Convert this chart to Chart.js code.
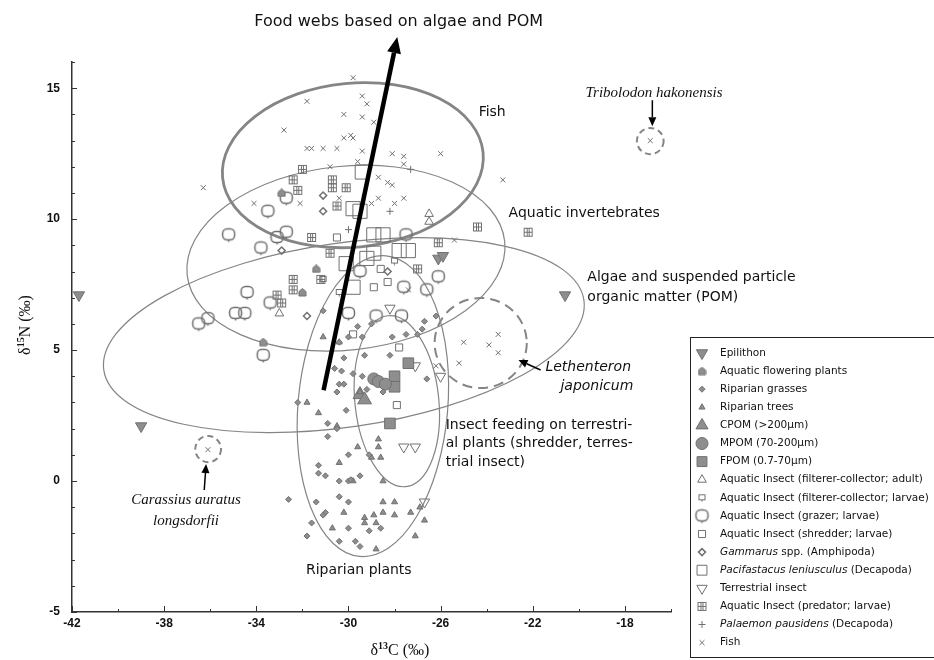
<!DOCTYPE html>
<html>
<head>
<meta charset="utf-8">
<script src="https://cdn.jsdelivr.net/npm/chart.js@4.4.0/dist/chart.umd.min.js"></script>
<style>
  body { margin: 0; background: #fff; }
  #wrap { width: 934px; height: 660px; }
</style>
</head>
<body>
<div id="wrap"><canvas id="c" width="934" height="660"></canvas></div>
<script>
// axis ticks
const xTicks = [-42, -38, -34, -30, -26, -22, -18];
const yTicks = [-5, 0, 5, 10, 15];

// δ13C, δ15N pairs, one list per group
const epilithon = [[-41.7, 7.1], [-39.0, 2.1], [-26.1, 8.5], [-25.9, 8.6], [-20.6, 7.1]];
const aquaticFlowering = [[-31.4, 8.1], [-32.0, 7.2], [-33.7, 5.3], [-32.9, 11.0]];
const riparianGrasses = [
  [-31.1, 6.5], [-29.3, 4.8], [-28.2, 4.8], [-29.8, 4.1], [-29.4, 4.0], [-30.6, 4.3], [-30.3, 4.2],
  [-30.4, 3.7], [-30.5, 3.4], [-30.2, 3.7], [-30.2, 4.7], [-30.0, 5.5], [-29.4, 5.5], [-30.4, 5.3],
  [-29.6, 5.9], [-29.0, 6.0], [-28.1, 5.5], [-27.5, 5.6], [-27.0, 5.6], [-26.7, 6.1], [-26.2, 6.3],
  [-26.8, 5.8], [-29.2, 3.5], [-28.5, 3.4], [-26.6, 3.9], [-32.2, 3.0], [-30.9, 2.2], [-30.5, 2.0],
  [-30.9, 1.7], [-30.1, 2.7], [-30.0, 1.0], [-31.3, 0.6], [-31.0, 0.2], [-30.4, 0.0], [-30.0, 0.0],
  [-29.9, 0.05], [-29.5, 0.2], [-29.1, 1.0], [-30.4, -0.6], [-30.0, -0.8], [-32.6, -0.7], [-31.4, -0.8],
  [-31.0, -1.2], [-31.1, -1.3], [-31.6, -1.6], [-30.0, -1.8], [-29.1, -1.9], [-28.6, -1.8], [-30.4, -2.3],
  [-29.7, -2.3], [-29.5, -2.5], [-31.8, -2.1], [-31.3, 0.3]
];
const riparianTrees = [
  [-31.8, 3.0], [-31.3, 2.6], [-30.5, 2.1], [-29.6, 1.3], [-28.7, 1.6], [-28.7, 1.3], [-28.6, 0.9],
  [-29.0, 0.9], [-30.4, 0.7], [-28.5, 0.0], [-29.8, 0.0], [-28.5, -0.8], [-28.0, -0.8], [-30.2, -1.2],
  [-29.3, -1.4], [-28.9, -1.3], [-28.5, -1.2], [-28.0, -1.3], [-27.3, -1.2], [-26.9, -1.0], [-26.7, -1.5],
  [-27.1, -2.1], [-30.7, -1.8], [-28.8, -1.6], [-28.8, -2.6], [-29.3, -1.6], [-30.4, 5.3], [-31.1, 5.5],
  [-29.5, 3.4]
];
const cpom = [[-29.5, 3.3], [-29.3, 3.1]];
const mpom = [[-28.9, 3.9], [-28.7, 3.8], [-28.4, 3.7]];
const fpom = [[-28.0, 4.0], [-28.0, 3.6], [-27.4, 4.5], [-28.2, 2.2]];
const filtererAdult = [[-26.5, 10.2], [-26.5, 9.9], [-33.0, 6.4]];
const filtererLarvae = [[-31.1, 7.7], [-30.4, 7.2], [-28.0, 8.4]];
const grazerLarvae = [
  [-32.7, 10.8], [-33.5, 10.3], [-35.2, 9.4], [-33.1, 9.3], [-32.7, 9.5], [-33.8, 8.9], [-34.4, 7.2],
  [-33.4, 6.8], [-34.9, 6.4], [-34.5, 6.4], [-36.5, 6.0], [-36.1, 6.2], [-33.7, 4.8], [-29.5, 8.0],
  [-26.1, 7.8], [-26.6, 7.3], [-27.6, 7.4], [-30.0, 6.4], [-28.8, 6.3], [-27.7, 6.3], [-27.5, 9.4]
];
const shredderLarvae = [[-30.5, 9.3], [-28.3, 7.6], [-28.9, 7.4], [-27.9, 2.9], [-27.8, 5.1], [-29.8, 5.6], [-28.6, 8.1]];
const gammarus = [[-31.1, 10.9], [-31.1, 10.3], [-32.9, 8.8], [-31.8, 6.3], [-28.3, 8.0]];
const pacifastacus = [
  [-29.4, 11.8], [-29.8, 10.4], [-29.5, 10.3], [-28.9, 9.4], [-28.5, 9.4], [-27.8, 8.8], [-27.4, 8.8],
  [-28.9, 8.7], [-29.2, 8.5], [-30.1, 8.3], [-29.8, 7.4]
];
const terrestrialInsect = [[-27.6, 1.3], [-27.1, 1.3], [-26.7, -0.8], [-27.1, 4.4], [-26.0, 4.0], [-28.2, 6.6]];
const predatorLarvae = [
  [-32.0, 11.9], [-32.4, 11.5], [-32.2, 11.1], [-30.7, 11.5], [-30.7, 11.2], [-30.1, 11.2], [-30.5, 10.5],
  [-31.6, 9.3], [-30.8, 8.7], [-24.4, 9.7], [-22.2, 9.5], [-26.1, 9.1], [-27.0, 8.1], [-32.4, 7.7],
  [-32.4, 7.3], [-33.1, 7.1], [-32.9, 6.8], [-31.2, 7.7]
];
const palaemon = [[-27.3, 11.9], [-28.2, 10.3], [-30.0, 9.6]];
const fish = [
  [-29.8, 15.4], [-31.8, 14.5], [-30.2, 14.0], [-32.8, 13.4], [-29.4, 14.7], [-29.2, 14.4], [-29.4, 13.9],
  [-28.9, 13.7], [-30.2, 13.1], [-29.9, 13.2], [-29.8, 13.1], [-31.8, 12.7], [-31.6, 12.7], [-31.1, 12.7],
  [-30.5, 12.7], [-29.4, 12.6], [-28.1, 12.5], [-27.6, 12.4], [-27.6, 12.1], [-26.0, 12.5], [-29.6, 12.2],
  [-30.8, 12.0], [-23.3, 11.5], [-36.3, 11.2], [-28.7, 11.6], [-28.3, 11.4], [-28.1, 11.3], [-34.1, 10.6],
  [-32.1, 10.6], [-29.0, 10.6], [-28.7, 10.8], [-30.4, 10.8], [-28.0, 10.6], [-27.6, 10.8], [-25.4, 9.2],
  [-27.4, 7.3], [-26.2, 4.4], [-25.2, 4.5], [-25.0, 5.3], [-23.5, 4.9], [-23.5, 5.6], [-23.9, 5.2],
  [-36.1, 1.2], [-16.9, 13.0]
];

const GRAY = '#8e8e8e';
const LINE = '#707070';
const NONE = 'rgba(255,255,255,0)';

function icon(size, draw) {
  const c = document.createElement('canvas');
  c.width = c.height = size;
  const g = c.getContext('2d');
  g.strokeStyle = LINE;
  g.fillStyle = GRAY;
  g.lineWidth = 1;
  draw(g, size);
  return c;
}
const gridIcon = icon(11, (g, s) => {
  g.strokeRect(1.5, 1.5, s - 3, s - 3);
  g.beginPath();
  g.moveTo(4.5, 1.5); g.lineTo(4.5, s - 1.5);
  g.moveTo(6.5, 1.5); g.lineTo(6.5, s - 1.5);
  g.moveTo(1.5, 5.5); g.lineTo(s - 1.5, 5.5);
  g.stroke();
});
const houseIcon = icon(9, (g) => {
  g.beginPath();
  g.moveTo(4.5, 0.5); g.lineTo(8, 3.5); g.lineTo(8, 8); g.lineTo(1, 8); g.lineTo(1, 3.5);
  g.closePath(); g.fill(); g.stroke();
});
const blobIcon = icon(17, (g) => {
  g.lineWidth = 1.5;
  g.beginPath();
  g.roundRect(2.5, 2.5, 12, 11, 4.5);
  g.stroke();
  g.beginPath(); g.moveTo(8.5, 13.5); g.lineTo(8.5, 15.5); g.stroke();
});
const notchIcon = icon(9, (g) => {
  g.strokeRect(1.5, 1.5, 6, 5);
  g.beginPath(); g.moveTo(4.5, 6.5); g.lineTo(4.5, 8.5); g.stroke();
});

function series(label, pts, style, legendText) {
  return Object.assign({
    label: label,
    data: pts.map(p => ({x: p[0], y: p[1]})),
    backgroundColor: GRAY,
    borderColor: LINE,
    borderWidth: 1,
    pointRadius: 4,
    rotation: 0,
    legendText: legendText || [[label, false]]
  }, style);
}

const datasets = [
  series('Epilithon', epilithon, {pointStyle: 'triangle', rotation: 180, pointRadius: 6.5}),
  series('Aquatic flowering plants', aquaticFlowering, {pointStyle: houseIcon}),
  series('Riparian grasses', riparianGrasses, {pointStyle: 'rectRot', pointRadius: 3}),
  series('Riparian trees', riparianTrees, {pointStyle: 'triangle', pointRadius: 3.5}),
  series('CPOM (>200μm)', cpom, {pointStyle: 'triangle', pointRadius: 8}),
  series('MPOM (70-200μm)', mpom, {pointStyle: 'circle', pointRadius: 6}),
  series('FPOM (0.7-70μm)', fpom, {pointStyle: 'rect', pointRadius: 7.5}),
  series('Aquatic Insect (filterer-collector; adult)', filtererAdult, {pointStyle: 'triangle', pointRadius: 5, backgroundColor: NONE}),
  series('Aquatic Insect (filterer-collector; larvae)', filtererLarvae, {pointStyle: notchIcon}),
  series('Aquatic Insect (grazer; larvae)', grazerLarvae, {pointStyle: blobIcon}),
  series('Aquatic Insect (shredder; larvae)', shredderLarvae, {pointStyle: 'rect', pointRadius: 5, backgroundColor: NONE}),
  series('Gammarus spp. (Amphipoda)', gammarus, {pointStyle: 'rectRot', pointRadius: 3.5, backgroundColor: NONE, borderWidth: 1.5},
    [['Gammarus', true], [' spp. (Amphipoda)', false]]),
  series('Pacifastacus leniusculus (Decapoda)', pacifastacus, {pointStyle: 'rect', pointRadius: 10, backgroundColor: NONE},
    [['Pacifastacus leniusculus', true], [' (Decapoda)', false]]),
  series('Terrestrial insect', terrestrialInsect, {pointStyle: 'triangle', rotation: 180, pointRadius: 6, backgroundColor: NONE}),
  series('Aquatic Insect (predator; larvae)', predatorLarvae, {pointStyle: gridIcon}),
  series('Palaemon pausidens (Decapoda)', palaemon, {pointStyle: 'cross', pointRadius: 3.5},
    [['Palaemon pausidens', true], [' (Decapoda)', false]]),
  series('Fish', fish, {pointStyle: 'crossRot', pointRadius: 3.5})
];

// outlines drawn behind the points (centre, radii in axis units, tilt in degrees)
const regions = [
  {cx: -29.81, cy: 12.06, rx: 5.68, ry: 3.13, rot: -5.5, width: 2.8},
  {cx: -30.11, cy: 8.51, rx: 6.93, ry: 3.51, rot: -6, width: 1.2},
  {cx: -30.2, cy: 5.57, rx: 10.53, ry: 3.51, rot: -8.3, width: 1.2},
  {cx: -28.94, cy: 2.86, rx: 3.25, ry: 5.76, rot: 5, width: 1.2},
  {cx: -27.9, cy: 3.05, rx: 1.82, ry: 3.28, rot: -6, width: 1.2},
  {cx: -24.26, cy: 5.27, rx: 2.0, ry: 1.72, rot: 0, width: 2, dash: [10, 6]},
  {cx: -36.09, cy: 1.22, rx: 0.56, ry: 0.5, rot: 0, width: 2, dash: [6, 4]},
  {cx: -16.9, cy: 12.98, rx: 0.58, ry: 0.5, rot: 0, width: 2, dash: [6, 4]}
];

const SANS = '"DejaVu Sans"';
const notes = [
  {text: 'Food webs based on algae and POM', x: -27.82, y: 17.52, align: 'center', font: '16px ' + SANS},
  {text: 'Fish', x: -24.35, y: 14.08, font: '14px ' + SANS},
  {text: 'Aquatic invertebrates', x: -23.05, y: 10.23, font: '14px ' + SANS},
  {text: 'Algae and suspended particle', x: -19.63, y: 7.79, font: '14px ' + SANS},
  {text: 'organic matter (POM)', x: -19.63, y: 7.02, font: '14px ' + SANS},
  {text: 'Insect feeding on terrestri-', x: -25.78, y: 2.14, font: '14px ' + SANS},
  {text: 'al plants (shredder, terres-', x: -25.78, y: 1.42, font: '14px ' + SANS},
  {text: 'trial insect)', x: -25.78, y: 0.7, font: '14px ' + SANS},
  {text: 'Riparian plants', x: -29.55, y: -3.4, align: 'center', font: '14px ' + SANS},
  {text: 'Tribolodon hakonensis', x: -19.71, y: 14.81, font: 'italic 15px "Liberation Serif"'},
  {text: 'Lethenteron', x: -21.45, y: 4.35, font: 'italic 14px ' + SANS},
  {text: 'japonicum', x: -20.8, y: 3.63, font: 'italic 14px ' + SANS},
  {text: 'Carassius auratus', x: -37.05, y: -0.73, align: 'center', font: 'italic 15px "Liberation Serif"'},
  {text: 'longsdorfii', x: -37.05, y: -1.53, align: 'center', font: 'italic 15px "Liberation Serif"'}
];

// arrows: from -> to, in axis units
const arrows = [
  {from: [-31.08, 3.47], to: [-27.88, 16.95], width: 4.5, head: 16, headW: 7},
  {from: [-16.81, 14.54], to: [-16.81, 13.55], width: 1.5, head: 9, headW: 4},
  {from: [-21.66, 4.24], to: [-22.62, 4.62], width: 1.5, head: 9, headW: 4},
  {from: [-36.26, -0.34], to: [-36.18, 0.65], width: 1.5, head: 9, headW: 4}
];

function toPx(chart, x, y) {
  return [chart.scales.x.getPixelForValue(x), chart.scales.y.getPixelForValue(y)];
}

const drawings = {
  id: 'drawings',
  beforeDatasetsDraw(chart) {
    const ctx = chart.ctx;
    ctx.save();
    regions.forEach(e => {
      const [cx, cy] = toPx(chart, e.cx, e.cy);
      const rx = Math.abs(chart.scales.x.getPixelForValue(e.cx + e.rx) - cx);
      const ry = Math.abs(chart.scales.y.getPixelForValue(e.cy + e.ry) - cy);
      ctx.beginPath();
      ctx.ellipse(cx, cy, rx, ry, e.rot * Math.PI / 180, 0, Math.PI * 2);
      ctx.lineWidth = e.width;
      ctx.setLineDash(e.dash || []);
      ctx.strokeStyle = '#858585';
      ctx.stroke();
    });
    ctx.restore();
  },
  afterDatasetsDraw(chart) {
    const ctx = chart.ctx;
    ctx.save();
    // arrows
    arrows.forEach(a => {
      const [x1, y1] = toPx(chart, a.from[0], a.from[1]);
      const [x2, y2] = toPx(chart, a.to[0], a.to[1]);
      const ang = Math.atan2(y2 - y1, x2 - x1);
      const bx = x2 - Math.cos(ang) * a.head, by = y2 - Math.sin(ang) * a.head;
      ctx.strokeStyle = '#000';
      ctx.fillStyle = '#000';
      ctx.lineWidth = a.width;
      ctx.beginPath(); ctx.moveTo(x1, y1); ctx.lineTo(bx, by); ctx.stroke();
      ctx.beginPath();
      ctx.moveTo(x2, y2);
      ctx.lineTo(bx + Math.sin(ang) * a.headW, by - Math.cos(ang) * a.headW);
      ctx.lineTo(bx - Math.sin(ang) * a.headW, by + Math.cos(ang) * a.headW);
      ctx.closePath(); ctx.fill();
    });
    // labels
    ctx.fillStyle = '#111';
    ctx.textBaseline = 'middle';
    notes.forEach(n => {
      const [x, y] = toPx(chart, n.x, n.y);
      ctx.font = n.font;
      ctx.textAlign = n.align || 'left';
      ctx.fillText(n.text, x, y);
    });
    ctx.restore();
  },
  afterDraw(chart) {
    const ctx = chart.ctx;
    const xs = chart.scales.x, ys = chart.scales.y;
    ctx.save();
    // inward tick marks
    ctx.strokeStyle = '#333';
    ctx.lineWidth = 1;
    ctx.beginPath();
    for (let v = -42; v <= -16; v += 2) {
      const x = Math.round(xs.getPixelForValue(v)) + 0.5;
      const len = (v + 42) % 4 === 0 ? 6 : 3;
      ctx.moveTo(x, ys.bottom); ctx.lineTo(x, ys.bottom - len);
    }
    for (let v = -5; v <= 16; v += 1) {
      const y = Math.round(ys.getPixelForValue(v)) + 0.5;
      const len = v % 5 === 0 ? 5 : 3;
      ctx.moveTo(xs.left, y); ctx.lineTo(xs.left + len, y);
    }
    ctx.stroke();

    // axis titles with superscripts
    ctx.fillStyle = '#111';
    ctx.textBaseline = 'alphabetic';
    function sup(parts, x, y) {
      let w = 0;
      parts.forEach(p => { ctx.font = p[1] ? 'bold 10px "Liberation Serif"' : '16px "Liberation Serif"'; w += ctx.measureText(p[0]).width; });
      let cx = x - w / 2;
      parts.forEach(p => {
        ctx.font = p[1] ? 'bold 10px "Liberation Serif"' : '16px "Liberation Serif"';
        ctx.textAlign = 'left';
        ctx.fillText(p[0], cx, p[1] ? y - 6 : y);
        cx += ctx.measureText(p[0]).width;
      });
    }
    sup([['δ', false], ['13', true], ['C (‰)', false]], 400, 655);
    ctx.save();
    ctx.translate(30, 325);
    ctx.rotate(-Math.PI / 2);
    sup([['δ', false], ['15', true], ['N (‰)', false]], 0, 0);
    ctx.restore();

    // legend box
    const lx = 690, ly = 337;
    ctx.fillStyle = '#fff';
    ctx.fillRect(lx, ly, 250, 321);
    ctx.strokeStyle = '#222';
    ctx.lineWidth = 1;
    ctx.strokeRect(lx + 0.5, ly + 0.5, 250, 320);
    chart.data.datasets.forEach((ds, i) => {
      const y = 353 + i * 18.1;
      ctx.fillStyle = ds.backgroundColor;
      ctx.strokeStyle = ds.borderColor;
      ctx.lineWidth = ds.borderWidth;
      Chart.helpers.drawPoint(ctx, {pointStyle: ds.pointStyle, rotation: ds.rotation, radius: Math.min(ds.pointRadius, 7), borderWidth: ds.borderWidth}, 702, y);
      let tx = 720;
      ctx.fillStyle = '#111';
      ctx.textBaseline = 'middle';
      ctx.textAlign = 'left';
      ds.legendText.forEach(part => {
        ctx.font = (part[1] ? 'italic ' : '') + '10.5px ' + SANS;
        ctx.fillText(part[0], tx, y);
        tx += ctx.measureText(part[0]).width;
      });
    });
    ctx.restore();
  }
};

const tickFont = {family: '"Liberation Sans"', weight: 'bold', size: 12};

new Chart(document.getElementById('c'), {
  type: 'scatter',
  data: {datasets: datasets},
  options: {
    responsive: false,
    animation: false,
    devicePixelRatio: 1,
    layout: {padding: {top: 62, right: 263, left: 0, bottom: 0}},
    plugins: {legend: {display: false}, tooltip: {enabled: false}},
    scales: {
      x: {
        type: 'linear', min: -42, max: -16,
        grid: {display: true, drawOnChartArea: false, drawTicks: false},
        border: {display: true, color: '#333', width: 1.5},
        afterBuildTicks: s => { s.ticks = xTicks.map(v => ({value: v})); },
        afterFit: s => { s.height = 48; },
        ticks: {font: tickFont, color: '#111', padding: 4, maxRotation: 0, autoSkip: false}
      },
      y: {
        type: 'linear', min: -5, max: 16,
        grid: {display: true, drawOnChartArea: false, drawTicks: false},
        border: {display: true, color: '#333', width: 1.5},
        afterBuildTicks: s => { s.ticks = yTicks.map(v => ({value: v})); },
        afterFit: s => { s.width = 72; },
        ticks: {font: tickFont, color: '#111', padding: 12, autoSkip: false}
      }
    }
  },
  plugins: [drawings]
});
</script>
</body>
</html>
